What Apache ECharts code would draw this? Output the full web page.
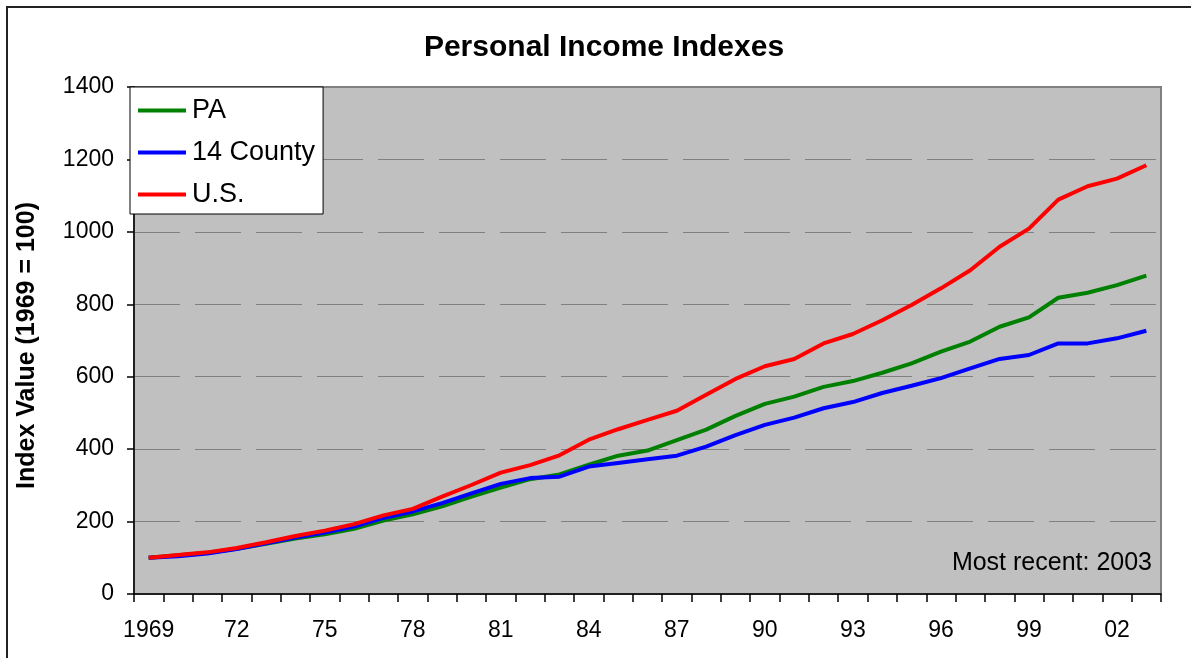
<!DOCTYPE html>
<html>
<head>
<meta charset="utf-8">
<script src="https://cdn.jsdelivr.net/npm/echarts@6/dist/echarts.min.js"></script>
<style>
html,body{margin:0;padding:0;background:#fff;}
#chart{width:1191px;height:658px;}
</style>
</head>
<body>
<div id="chart"></div>
<script>
const years = ['1969','1970','1971','1972','1973','1974','1975','1976','1977','1978','1979','1980','1981','1982','1983','1984','1985','1986','1987','1988','1989','1990','1991','1992','1993','1994','1995','1996','1997','1998','1999','2000','2001','2002','2003'];
const tickLabels = ['1969','72','75','78','81','84','87','90','93','96','99','02'];
const paValues = [100,107,114,125,139,153,165,180,203,220,242,269,294,317,330,357,382,396,425,454,492,525,545,572,588,611,637,669,697,738,764,818,832,853,879];
const countyValues = [100,104,112,124,140,156,170,186,210,228,251,278,304,320,324,352,362,372,382,407,439,467,487,513,530,555,575,596,623,649,660,692,692,706,727];
const usValues = [100,108,115,127,143,160,175,193,217,235,269,301,335,356,383,426,455,481,506,550,594,629,649,692,718,756,798,844,894,959,1009,1089,1126,1147,1184];
const seriesNames = ['PA','14 County','U.S.'];
const seriesColors = ['#008000','#0000FF','#FF0000'];

const FONT = '"Liberation Sans", Arial, sans-serif';
const chart = echarts.init(document.getElementById('chart'), null, {renderer:'canvas'});

function yearLabel(v){
  const i = years.indexOf(v);
  if (i % 3 !== 0) return '';
  return tickLabels[i/3];
}

const allValues = [paValues, countyValues, usValues];
chart.setOption({
  animation:false,
  backgroundColor:'#ffffff',
  textStyle:{fontFamily:FONT},
  title:{
    text:'Personal Income Indexes',
    left:599, top:28, textAlign:'center',
    textStyle:{fontFamily:FONT, fontSize:30, fontWeight:'bold', color:'#000'}
  },
  grid:{
    left:134, right:30, top:87, bottom:64,
    show:true, backgroundColor:'#C0C0C0', borderColor:'#808080', borderWidth:2
  },
  legend:{
    orient:'vertical', left:130, top:87,
    backgroundColor:'#ffffff', borderColor:'#000', borderWidth:1,
    padding:[10,8,6,8], itemGap:15, itemWidth:48, itemHeight:4,
    icon:'rect',
    textStyle:{fontFamily:FONT, fontSize:27, color:'#000', padding:[0,0,0,1]},
    data:seriesNames
  },
  xAxis:{
    type:'category', data:years, boundaryGap:true,
    axisLine:{lineStyle:{color:'#000', width:1.5}},
    axisTick:{show:true, interval:0, length:8, lineStyle:{color:'#000', width:1.5}},
    axisLabel:{interval:0, margin:25, fontSize:23, color:'#000', fontFamily:FONT, formatter:yearLabel},
    splitLine:{show:false}
  },
  yAxis:{
    type:'value', min:0, max:1400, interval:200,
    axisLine:{show:true, lineStyle:{color:'#000', width:1.5}},
    axisTick:{show:true, length:7, lineStyle:{color:'#000', width:1.5}},
    axisLabel:{margin:20, fontSize:23, color:'#000', fontFamily:FONT, formatter:function(v){return String(v);}},
    splitLine:{show:true, lineStyle:{color:'#808080', width:1, type:[46,15]}}
  },
  graphic:[
    {type:'rect', shape:{x:7, y:7, width:1300, height:1000}, style:{fill:null, stroke:'#222', lineWidth:2}, silent:true, z:100},
    {type:'text', x:27, y:345.5, rotation:Math.PI/2, style:{text:'Index Value (1969 = 100)', fill:'#000', font:'bold 25px "Liberation Sans", Arial, sans-serif', textAlign:'center', textVerticalAlign:'middle'}, z:100},
    {type:'text', x:1152, y:563, style:{text:'Most recent: 2003', fill:'#000', font:'25px "Liberation Sans", Arial, sans-serif', textAlign:'right', textVerticalAlign:'middle'}, z:100}
  ],
  series: seriesNames.map((n,k)=>({
    name:n, type:'line', data:allValues[k], showSymbol:false, symbol:'none',
    lineStyle:{color:seriesColors[k], width:4}, itemStyle:{color:seriesColors[k]},
    z: 2+k
  }))
});
</script>
</body>
</html>
